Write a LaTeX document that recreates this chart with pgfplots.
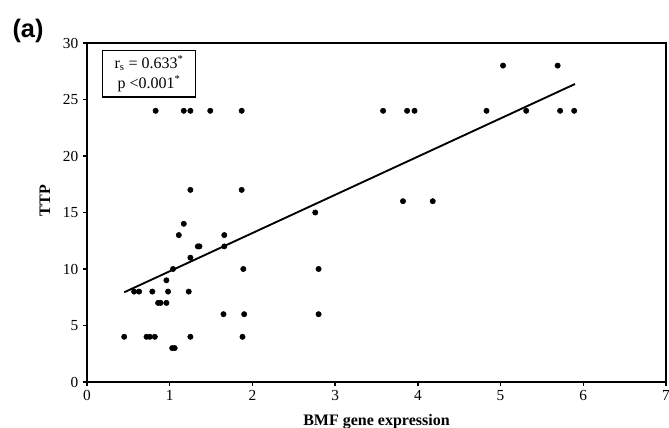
\documentclass[border=0pt]{standalone}
\usepackage{fontspec}
\setmainfont{Liberation Serif}
\newfontfamily\arialfont{Liberation Sans}
\usepackage{pgfplots}
\pgfplotsset{compat=1.18}

\begin{document}
\begin{tikzpicture}
    \begin{axis}[
        name=ax,
        at={(0,0)}, anchor=south west,
        scale only axis=true,
        width=434.25pt,
        height=254.25pt,
        xmin=0, xmax=7,
        ymin=0, ymax=30,
        xtick={0,1,...,7},
        ytick={0,5,...,30},
        xtick pos=bottom,
        ytick pos=left,
        tick align=outside,
        major tick length=3pt,
        axis line style={line width=1pt},
        tick style={line width=1pt, black},
        /pgf/number format/assume math mode=true,
        tick label style={font=\fontsize{11.5}{13}\selectfont},
        xlabel={\bfseries BMF gene expression},
        ylabel={\bfseries TTP},
        label style={font=\fontsize{12}{14}\selectfont},
        xlabel style={at={(axis description cs:0.5,0)}, anchor=center, yshift=-30pt},
        ylabel style={at={(axis description cs:0,0.535)}, anchor=center, yshift=31.5pt},
        clip=false,
    ]
    % observed patients
    \addplot[only marks, mark=*, mark size=2pt, black] coordinates {
        (0.83,24) (1.17,24) (1.25,24) (1.49,24) (1.87,24)
        (3.58,24) (3.87,24) (3.96,24) (4.83,24) (5.31,24) (5.72,24) (5.89,24)
        (5.03,28) (5.69,28)
        (1.25,17) (1.87,17)
        (3.82,16) (4.18,16)
        (2.76,15)
        (1.17,14)
        (1.11,13) (1.66,13)
        (1.34,12) (1.36,12) (1.66,12)
        (1.25,11)
        (1.04,10) (1.89,10) (2.80,10)
        (0.96,9)
        (0.57,8) (0.63,8) (0.79,8) (0.98,8) (1.23,8)
        (0.86,7) (0.89,7) (0.96,7)
        (1.65,6) (1.90,6) (2.80,6)
        (0.45,4) (0.72,4) (0.76,4) (0.82,4) (1.25,4) (1.88,4)
        (1.03,3) (1.06,3)
    };
    % fitted line
    \addplot[black, line width=1.4pt] coordinates {(0.45,7.94) (5.90,26.37)};
    \node[draw=black, line width=0.8pt, anchor=north west, align=center,
          inner xsep=6pt, inner ysep=3pt, minimum width=70pt, minimum height=35pt,
          font=\fontsize{12}{15}\selectfont]
        at (axis cs:0.18,29.4) {r\textsubscript{s} = 0.633\textsuperscript{*}\\ p <0.001\textsuperscript{*}};
    \end{axis}
    \node[font=\arialfont\bfseries\fontsize{19}{21}\selectfont] at (-44.25pt,263.25pt) {(a)};
    \pgfresetboundingbox
    \path[use as bounding box] (-65.25pt,-34.5pt) rectangle (436.5pt,286.5pt);
\end{tikzpicture}
\end{document}
